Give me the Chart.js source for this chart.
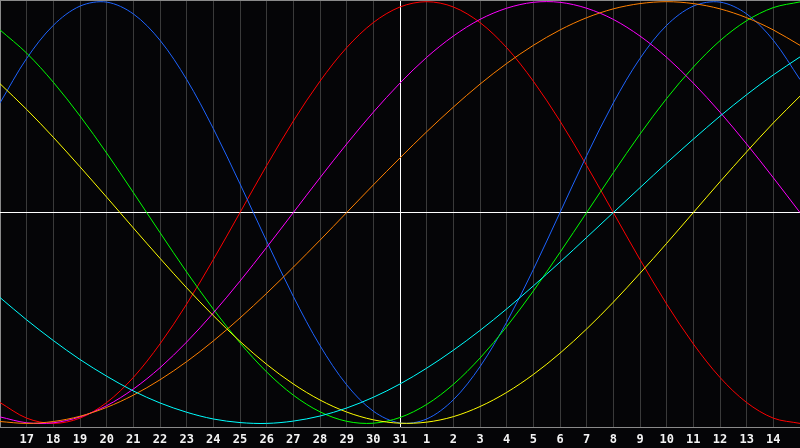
<!DOCTYPE html>
<html>
<head>
<meta charset="utf-8">
<script src="https://cdn.jsdelivr.net/npm/chart.js@4.4.0/dist/chart.umd.min.js"></script>
<style>
html,body{margin:0;padding:0;background:#050507;overflow:hidden;}
canvas{display:block;}
</style>
</head>
<body>
<canvas id="c" width="800" height="448"></canvas>
<script>
const days = ['16','17','18','19','20','21','22','23','24','25','26','27','28','29','30','31',
              '1','2','3','4','5','6','7','8','9','10','11','12','13','14','15'];

const physical = [0.520,0.731,0.888,0.979,0.998,0.942,0.817,0.631,0.398,0.136,-0.136,-0.398,-0.631,-0.817,-0.942,-0.998,-0.979,-0.888,-0.731,-0.520,-0.270,0,0.270,0.520,0.731,0.888,0.979,0.998,0.942,0.817,0.631];
const emotional = [-0.901,-0.975,-1,-0.975,-0.901,-0.782,-0.623,-0.434,-0.223,0,0.223,0.434,0.623,0.782,0.901,0.975,1,0.975,0.901,0.782,0.623,0.434,0.223,0,-0.223,-0.434,-0.623,-0.782,-0.901,-0.975,-1];
const intellectual = [0.866,0.756,0.618,0.458,0.282,0.095,-0.095,-0.282,-0.458,-0.618,-0.756,-0.866,-0.945,-0.990,-0.999,-0.972,-0.910,-0.815,-0.690,-0.541,-0.372,-0.189,0,0.189,0.372,0.541,0.690,0.815,0.910,0.972,0.999];
const intuitive = [-0.969,-0.997,-0.997,-0.969,-0.916,-0.837,-0.736,-0.614,-0.476,-0.325,-0.165,0,0.165,0.325,0.476,0.614,0.736,0.837,0.916,0.969,0.997,0.997,0.969,0.916,0.837,0.736,0.614,0.476,0.325,0.165,0];
const aesthetic = [0.611,0.489,0.357,0.217,0.073,-0.073,-0.217,-0.357,-0.489,-0.611,-0.720,-0.813,-0.889,-0.946,-0.983,-0.999,-0.994,-0.968,-0.920,-0.853,-0.768,-0.667,-0.552,-0.425,-0.288,-0.146,0,0.146,0.288,0.425,0.552];
const awareness = [-0.991,-1,-0.991,-0.966,-0.924,-0.866,-0.793,-0.707,-0.609,-0.5,-0.383,-0.259,-0.131,0,0.131,0.259,0.383,0.5,0.609,0.707,0.793,0.866,0.924,0.966,0.991,1,0.991,0.966,0.924,0.866,0.793];
const spiritual = [-0.403,-0.509,-0.607,-0.697,-0.776,-0.846,-0.903,-0.947,-0.979,-0.996,-1.000,-0.989,-0.965,-0.927,-0.876,-0.813,-0.738,-0.653,-0.559,-0.457,-0.348,-0.235,-0.118,0,0.118,0.235,0.348,0.457,0.559,0.653,0.738];

const todayIndex = 15;
const yMin = -1.017, yMax = 1.008;

function ds(label, data, color) {
  return { label, data, borderColor: color, borderWidth: 1, pointRadius: 0, tension: 0.33, fill: false };
}

new Chart(document.getElementById('c'), {
  type: 'line',
  data: {
    labels: days,
    datasets: [
      ds('Spiritual', spiritual, '#00ffff'),
      ds('Aesthetic', aesthetic, '#ffff00'),
      ds('Awareness', awareness, '#ff8000'),
      ds('Intuitive', intuitive, '#ff00ff'),
      ds('Intellectual', intellectual, '#00ff00'),
      ds('Physical', physical, '#1e64ff'),
      ds('Emotional', emotional, '#ff0000')
    ]
  },
  options: {
    responsive: false,
    devicePixelRatio: 1,
    animation: false,
    layout: { padding: 0, autoPadding: false },
    plugins: { legend: { display: false }, tooltip: { enabled: false } },
    scales: {
      x: {
        offset: false,
        grid: {
          color: ctx => ctx.index === 0 ? '#8a8a8a' : (ctx.index === todayIndex ? '#ffffff' : '#3a3a3a'),
          lineWidth: 1,
          drawTicks: false
        },
        border: { display: true, color: '#8a8a8a', width: 1 },
        ticks: {
          color: '#f4f4f4',
          font: { family: 'DejaVu Sans Mono', size: 12, weight: 'bold' },
          padding: 6,
          autoSkip: false,
          maxRotation: 0,
          callback: (v, i) => (i === 0 || i === days.length - 1) ? '' : days[i]
        },
        afterFit: s => { s.height = 21; s.paddingLeft = 0; s.paddingRight = 0; }
      },
      y: {
        min: yMin,
        max: yMax,
        afterBuildTicks: s => { s.ticks = [{ value: 0 }, { value: yMax }]; },
        grid: {
          color: ctx => (ctx.tick && ctx.tick.value === 0) ? '#ffffff' : '#8a8a8a',
          lineWidth: 1,
          drawTicks: false
        },
        border: { display: false },
        ticks: { display: false },
        afterFit: s => { s.width = 0; s.paddingTop = 0; s.paddingBottom = 0; }
      }
    }
  }
});
</script>
</body>
</html>
